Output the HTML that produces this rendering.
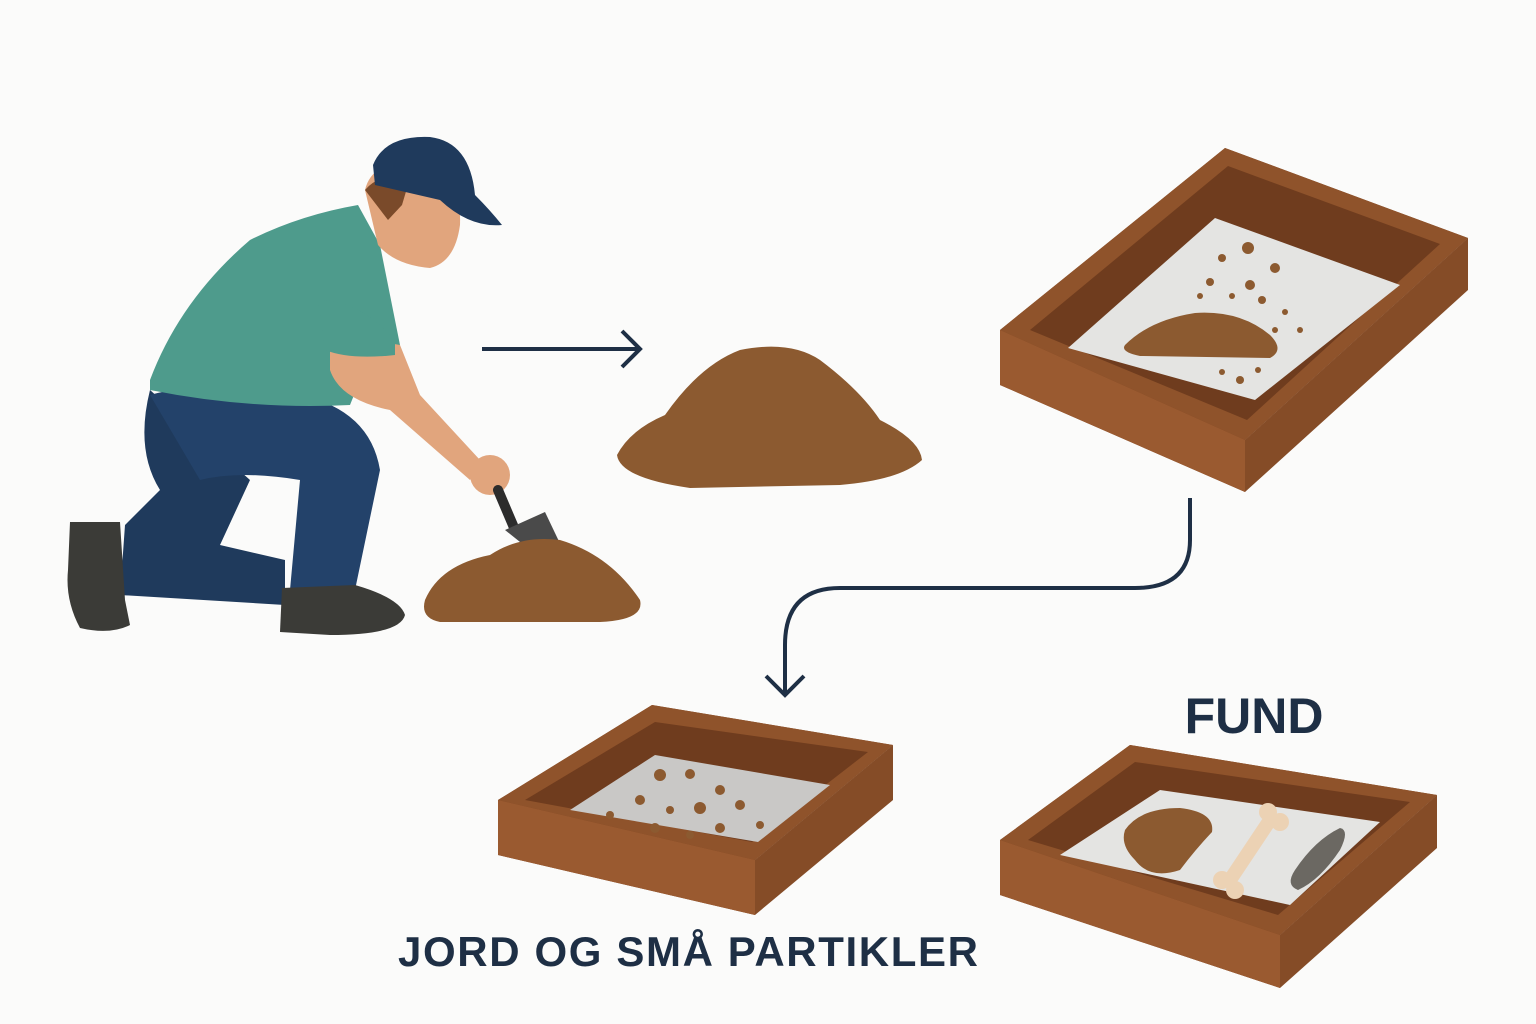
<!DOCTYPE html>
<html><head><meta charset="utf-8"><style>
html,body{margin:0;padding:0;background:#fbfbfa;}
svg{display:block}
</style></head><body>
<svg width="1536" height="1024" viewBox="0 0 1536 1024" xmlns="http://www.w3.org/2000/svg">
<rect width="1536" height="1024" fill="#fbfbfa"/>

<!-- Man -->
<!-- back leg / lower -->
<path d="M150 390 Q135 450 160 490 L125 525 L120 595 L285 605 L285 560 L220 545 L250 480 Z" fill="#1f3a5c"/>
<path d="M150 395 Q200 380 300 395 Q370 410 380 470 L355 590 L290 590 L300 480 Q240 470 200 480 Z" fill="#23426a"/>
<!-- boots -->
<path d="M70 522 L120 522 L125 600 L130 625 Q110 635 80 628 Q65 600 68 570 Z" fill="#3b3b37"/>
<path d="M282 588 L355 585 Q400 598 405 615 Q400 635 330 635 L280 632 Z" fill="#3b3b37"/>
<!-- shirt -->
<path d="M150 380 Q180 300 250 240 Q300 215 358 205 L380 245 L400 345 L385 355 L370 355 L350 405 Q250 410 150 390 Z" fill="#4e9b8c"/>
<!-- arm -->
<path d="M330 350 Q380 340 400 345 L420 395 L480 460 L470 480 L390 410 Q340 400 330 370 Z" fill="#e1a57d"/>
<path d="M318 300 Q360 300 395 340 L395 355 Q350 360 325 350 Z" fill="#4e9b8c"/>
<circle cx="490" cy="475" r="20" fill="#e1a57d"/>
<!-- trowel -->
<path d="M498 490 L515 530" stroke="#2c2c2c" stroke-width="10" stroke-linecap="round"/>
<path d="M505 530 L545 512 L575 575 L565 578 Z" fill="#4a4a4a"/>
<!-- head -->
<path d="M365 190 Q372 160 420 158 Q462 165 460 225 Q455 262 430 268 Q395 265 378 245 Z" fill="#e1a57d"/>
<path d="M365 190 Q380 172 410 178 L402 205 L388 220 Z" fill="#7a4a2a"/>
<path d="M373 165 Q385 135 430 137 Q470 142 475 195 Q490 210 502 225 Q470 228 440 200 L375 185 Z" fill="#1f3a5c"/>
<!-- small pile -->
<path d="M425 600 Q440 565 490 555 Q520 535 560 540 Q610 555 640 600 Q645 620 600 622 L440 622 Q420 618 425 600 Z" fill="#8c5a30"/>

<!-- straight arrow -->
<line x1="482" y1="349" x2="638" y2="349" stroke="#1e2f45" stroke-width="4"/>
<path d="M622 331 L640 349 L622 367" fill="none" stroke="#1e2f45" stroke-width="4"/>

<!-- big pile -->
<path d="M617 455 Q630 430 665 415 Q700 365 740 350 Q790 340 820 360 Q860 390 880 420 Q920 440 922 460 Q900 480 840 485 L690 488 Q620 478 617 455 Z" fill="#8c5a30"/>

<!-- top-right tray -->
<polygon points="1000,330 1225,148 1468,238 1245,440 1245,492 1000,385" fill="#7e4422"/>
<polygon points="1000,330 1225,148 1468,238 1245,440" fill="#8f532b"/>
<polygon points="1000,330 1245,440 1245,492 1000,385" fill="#9a5a30"/>
<polygon points="1245,440 1468,238 1468,290 1245,492" fill="#854c27"/>
<polygon points="1030,330 1228,166 1440,244 1247,420" fill="#6f3c1e"/>
<polygon points="1068,348 1215,218 1400,285 1255,400" fill="#e4e4e2"/>
<path d="M1125 345 Q1150 320 1195 313 Q1240 310 1270 335 Q1285 350 1270 358 L1140 356 Q1120 352 1125 345 Z" fill="#8c5a30"/>
<g fill="#8c5a30"><circle cx="1248" cy="248" r="6"/><circle cx="1222" cy="258" r="4"/><circle cx="1275" cy="268" r="5"/><circle cx="1210" cy="282" r="4"/><circle cx="1250" cy="285" r="5"/><circle cx="1232" cy="296" r="3"/><circle cx="1262" cy="300" r="4"/><circle cx="1285" cy="312" r="3"/><circle cx="1200" cy="296" r="3"/><circle cx="1275" cy="330" r="3"/><circle cx="1300" cy="330" r="3"/><circle cx="1240" cy="380" r="4"/><circle cx="1222" cy="372" r="3"/><circle cx="1258" cy="370" r="3"/></g>

<!-- curved arrow -->
<path d="M1190 498 L1190 540 Q1190 588 1135 588 L840 588 Q785 588 785 645 L785 693" fill="none" stroke="#1e2f45" stroke-width="4"/>
<path d="M766 676 L785 695 L804 676" fill="none" stroke="#1e2f45" stroke-width="4"/>

<!-- bottom tray 1 -->
<polygon points="498,800 652,705 893,745 755,860 755,915 498,855" fill="#7e4422"/>
<polygon points="498,800 652,705 893,745 755,860" fill="#8f532b"/>
<polygon points="498,800 755,860 755,915 498,855" fill="#9a5a30"/>
<polygon points="755,860 893,745 893,800 755,915" fill="#854c27"/>
<polygon points="525,800 655,722 868,752 752,842" fill="#6f3c1e"/>
<polygon points="570,810 655,755 830,785 758,842" fill="#c9c8c6"/>
<g fill="#8c5a30"><circle cx="660" cy="775" r="6"/><circle cx="690" cy="774" r="5"/><circle cx="720" cy="790" r="5"/><circle cx="640" cy="800" r="5"/><circle cx="670" cy="810" r="4"/><circle cx="700" cy="808" r="6"/><circle cx="740" cy="805" r="5"/><circle cx="610" cy="815" r="4"/><circle cx="655" cy="828" r="5"/><circle cx="720" cy="828" r="5"/><circle cx="760" cy="825" r="4"/><circle cx="690" cy="835" r="4"/></g>

<!-- bottom tray 2 -->
<polygon points="1000,840 1130,745 1437,795 1280,935 1280,988 1000,895" fill="#7e4422"/>
<polygon points="1000,840 1130,745 1437,795 1280,935" fill="#8f532b"/>
<polygon points="1000,840 1280,935 1280,988 1000,895" fill="#9a5a30"/>
<polygon points="1280,935 1437,795 1437,848 1280,988" fill="#854c27"/>
<polygon points="1028,840 1135,762 1410,802 1278,915" fill="#6f3c1e"/>
<polygon points="1060,855 1160,790 1380,822 1290,905" fill="#e4e4e2"/>
<path d="M1125 830 Q1140 808 1180 808 Q1215 812 1212 832 Q1195 850 1180 870 Q1150 880 1135 860 Q1120 845 1125 830 Z" fill="#8c5a30"/>
<path d="M1270 820 L1230 880" stroke="#ecd2b4" stroke-width="14" stroke-linecap="round"/>
<circle cx="1268" cy="812" r="9" fill="#ecd2b4"/><circle cx="1280" cy="822" r="9" fill="#ecd2b4"/>
<circle cx="1222" cy="880" r="9" fill="#ecd2b4"/><circle cx="1235" cy="890" r="9" fill="#ecd2b4"/>
<path d="M1340 828 Q1350 830 1340 850 Q1320 880 1298 890 Q1285 885 1295 870 Q1315 840 1340 828 Z" fill="#6b6862"/>

<!-- labels -->
<text x="1254" y="733" text-anchor="middle" font-family="Liberation Sans, sans-serif" font-weight="bold" font-size="50" fill="#1e2f45">FUND</text>
<text x="688" y="966" text-anchor="middle" font-family="Liberation Sans, sans-serif" font-weight="bold" font-size="42" fill="#1e2f45" textLength="580">JORD OG SMÅ PARTIKLER</text>
</svg>
</body></html>
